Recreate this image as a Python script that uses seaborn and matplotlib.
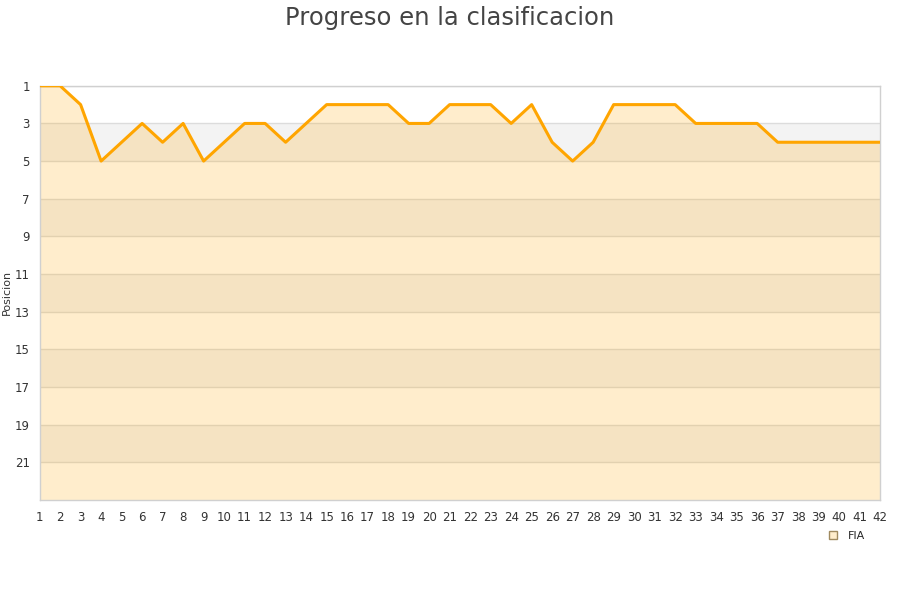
import numpy as np
import pandas as pd
import seaborn as sns
import matplotlib.pyplot as plt

# Jornadas y posiciones
jornadas = list(range(1, 43))
posiciones = [1, 1, 2, 5, 4, 3, 4, 3, 5, 4,
              3, 3, 4, 3, 2, 2, 2, 2, 3, 3,
              2, 2, 2, 3, 2, 4, 5, 4, 2, 2,
              2, 2, 3, 3, 3, 3, 4, 4, 4, 4,
              4, 4]
equipo = "FIA"
y_ticks = list(range(1, 22, 2))

df = pd.DataFrame({"Jornada": jornadas, "Posicion": posiciones})

sns.set_style("white")
plt.rcParams['font.family'] = ['DejaVu Sans']

fig = plt.figure(figsize=(9, 6), dpi=100)
ax = fig.add_axes([0.044, 0.167, 0.934, 0.69])

# Bandas alternas de fondo
for i, y0 in enumerate(range(1, 23, 2)):
    color = 'white' if i % 2 == 0 else '#f3f3f3'
    ax.axhspan(y0, y0 + 2, color=color, zorder=0, lw=0)
for y in y_ticks:
    ax.axhline(y, color='#dcdcdc', lw=1, zorder=1)

# Area bajo la linea
ax.fill_between(df["Jornada"], df["Posicion"], 23, color='#ffa500', alpha=0.2, lw=0, zorder=2)
sns.lineplot(data=df, x="Jornada", y="Posicion", color='#ffa500', lw=2.2, ax=ax, zorder=3)

ax.set_xlim(1, 42)
ax.set_ylim(23, 1)
ax.set_xticks(jornadas)
ax.set_yticks(y_ticks)
ax.tick_params(axis='both', labelsize=8.5, colors='#333333', length=0)
ax.tick_params(axis='x', pad=8)
ax.tick_params(axis='y', pad=7)
ax.set_xlabel("")
ax.set_ylabel("Posicion", fontsize=8, color='#333333', labelpad=2)

for side in ['left', 'bottom', 'right', 'top']:
    ax.spines[side].set_color('#d0d0d0')
    ax.spines[side].set_linewidth(1)

fig.suptitle("Progreso en la clasificacion", fontsize=17.5, color='#444444', y=0.99)

# Leyenda
ax.plot([], [], marker='s', ls='', color='#ffedcc', mec='#a08a60', ms=6, label=equipo)
ax.legend(loc='upper left', bbox_to_anchor=(0.925, -0.065), frameon=False,
          fontsize=8, handletextpad=0.4, borderaxespad=0)

fig.savefig("out.png", dpi=100)
